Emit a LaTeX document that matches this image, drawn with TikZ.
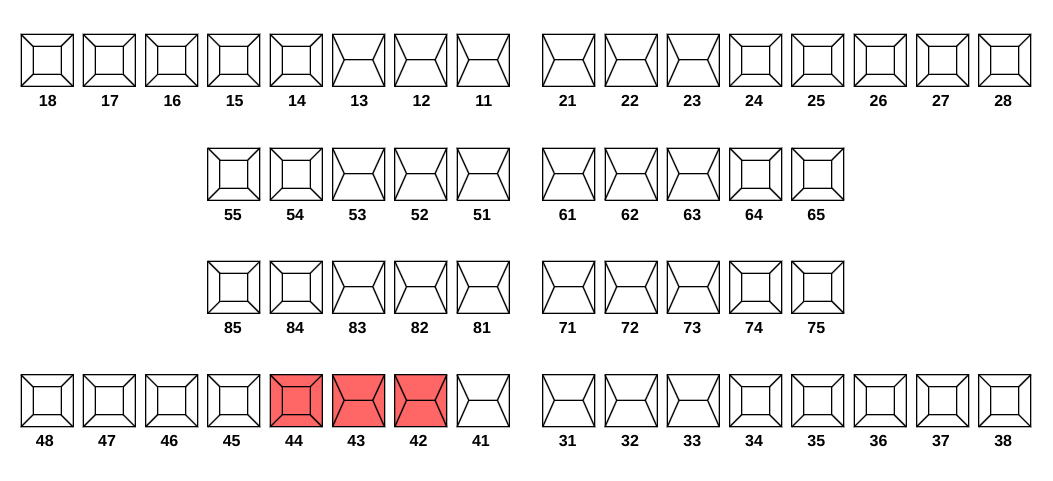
\documentclass[tikz,border=0pt]{standalone}
\usepackage{fontspec}
\setmainfont{Liberation Sans}
\definecolor{hit}{HTML}{FF6666}
\newcommand{\toothM}[4]{% left, top, label, fill
  \fill[#4] (#1,#2) rectangle ++(52,52);
  \draw[tline] (#1,#2) rectangle ++(52,52);
  \draw[tline] (#1+12,#2+12) rectangle ++(28,28);
  \draw[tline] (#1,#2) -- ++(12,12) (#1+52,#2) -- ++(-12,12)
               (#1,#2+52) -- ++(12,-12) (#1+52,#2+52) -- ++(-12,-12);
  \node[tlabel] (t#3) at (#1+26+\ldx,\ly) {#3};
}
\newcommand{\toothI}[4]{%
  \fill[#4] (#1,#2) rectangle ++(52,52);
  \draw[tline] (#1,#2) rectangle ++(52,52);
  \draw[tline] (#1+11.7,#2+25.5) -- ++(28.6,0);
  \draw[tline] (#1,#2) -- ++(11.7,25.5) -- ++(-11.7,26.5)
               (#1+52,#2) -- ++(-11.7,25.5) -- ++(11.7,26.5);
  \node[tlabel] (t#3) at (#1+26+\ldx,\ly) {#3};
}
\tikzset{
  x=0.75pt,y=-0.75pt,
  tline/.style={draw=black,line width=0.75pt,line join=miter,
    preaction={draw=black,draw opacity=0.3,line width=1.5pt}},
  tlabel/.style={font=\fontsize{12pt}{12pt}\selectfont\bfseries,text=black,inner sep=0pt,text height=8.6pt,text depth=0pt},
  none/.style={fill=white},
  hitf/.style={fill=hit}
}
\begin{document}
\begin{tikzpicture}
\useasboundingbox (0,0) rectangle (1053,480);
\fill[white] (0,0) rectangle (1053,480);
% upper row
\def\ly{101}
\def\ldx{0.8}
\foreach \lab/\i in {18/0,17/1,16/2,15/3,14/4}
  {\toothM{21+62.3*\i}{34.4}{\lab}{none}}
\foreach \lab/\i in {13/5,12/6,11/7}
  {\toothI{21+62.3*\i}{34.4}{\lab}{none}}
\def\ldx{-1}
\foreach \lab/\i in {21/0,22/1,23/2}
  {\toothI{542.7+62.3*\i}{34.4}{\lab}{none}}
\def\ldx{-1.6}
\foreach \lab/\i in {24/3,25/4,26/5,27/6,28/7}
  {\toothM{542.7+62.3*\i}{34.4}{\lab}{none}}
% second row
\def\ly{215}
\def\ldx{-1}
\foreach \lab/\i in {55/3,54/4}
  {\toothM{21+62.3*\i}{148}{\lab}{none}}
\foreach \lab/\i in {53/5,52/6,51/7}
  {\toothI{21+62.3*\i}{148}{\lab}{none}}
\foreach \lab/\i in {61/0,62/1,63/2}
  {\toothI{542.7+62.3*\i}{148}{\lab}{none}}
\def\ldx{-1.6}
\foreach \lab/\i in {64/3,65/4}
  {\toothM{542.7+62.3*\i}{148}{\lab}{none}}
% third row
\def\ly{328.2}
\def\ldx{-1}
\foreach \lab/\i in {85/3,84/4}
  {\toothM{21+62.3*\i}{261.3}{\lab}{none}}
\foreach \lab/\i in {83/5,82/6,81/7}
  {\toothI{21+62.3*\i}{261.3}{\lab}{none}}
\foreach \lab/\i in {71/0,72/1,73/2}
  {\toothI{542.7+62.3*\i}{261.3}{\lab}{none}}
\def\ldx{-1.6}
\foreach \lab/\i in {74/3,75/4}
  {\toothM{542.7+62.3*\i}{261.3}{\lab}{none}}
% lower row
\def\ly{441}
\def\ldx{-2.2}
\foreach \lab/\i in {48/0,47/1,46/2,45/3}
  {\toothM{21+62.3*\i}{374.8}{\lab}{none}}
\toothM{21+62.3*4}{374.8}{44}{hitf}
\toothI{21+62.3*5}{374.8}{43}{hitf}
\toothI{21+62.3*6}{374.8}{42}{hitf}
\toothI{21+62.3*7}{374.8}{41}{none}
\def\ldx{-1}
\foreach \lab/\i in {31/0,32/1,33/2}
  {\toothI{542.7+62.3*\i}{374.8}{\lab}{none}}
\def\ldx{-1.6}
\foreach \lab/\i in {34/3,35/4,36/5,37/6,38/7}
  {\toothM{542.7+62.3*\i}{374.8}{\lab}{none}}
\end{tikzpicture}
\end{document}
